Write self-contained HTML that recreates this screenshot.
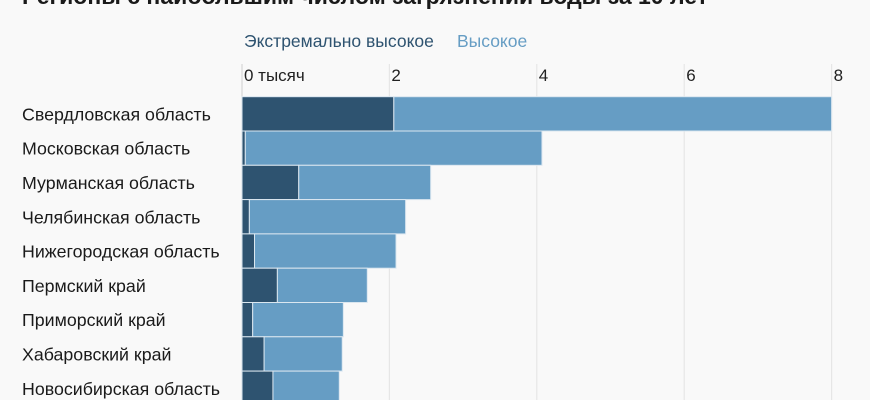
<!DOCTYPE html>
<html><head><meta charset="utf-8"><style>
html,body{margin:0;padding:0;background:#f9f9f9;}
svg{display:block;font-family:"Liberation Sans","Noto Sans CJK SC",sans-serif;}
</style></head><body>
<svg id="chart" width="870" height="400">
<text x="22" y="4" font-size="23" font-weight="bold" fill="#1a1a1a">Регионы с наибольшим числом загрязнений воды за 10 лет</text>
<g>
<text x="244" y="47" font-size="17.5" fill="#2e5370">Экстремально высокое</text>
<text x="457" y="47" font-size="17.5" fill="#669dc4">Высокое</text>
</g>
<g id="grid"></g><g id="bars"></g><g id="labels"></g>
</svg>
<script>
const categories=["Свердловская область","Московская область","Мурманская область","Челябинская область","Нижегородская область","Пермский край","Приморский край","Хабаровский край","Новосибирская область"];
const extreme=[2.06,0.045,0.77,0.10,0.17,0.48,0.145,0.30,0.42];
const high=[5.94,4.025,1.79,2.12,1.92,1.22,1.23,1.06,0.90];
const ticks=[0,2,4,6,8];
const tickLabels=["0 тысяч","2","4","6","8"];
const NS="http://www.w3.org/2000/svg";
const x0=242,x1=831.6,xmax=8;
const xs=v=>x0+v/xmax*(x1-x0);
const rowTop=96.7,rowH=34.3;
const ys=i=>rowTop+i*rowH;
function mk(t,a,p){const e=document.createElementNS(NS,t);for(const k in a)e.setAttribute(k,a[k]);p.appendChild(e);return e;}
const grid=document.getElementById('grid'),bars=document.getElementById('bars'),labels=document.getElementById('labels');
ticks.forEach((t,i)=>{
 const l=mk('line',{x1:xs(t),x2:xs(t),y1:64,y2:400,stroke:i==0?'#d6d6d6':'#e6e6e6','stroke-width':1.2},grid);
 
 
 const tx=mk('text',{x:xs(t)+2,y:81,'font-size':17,fill:'#222'},grid);
 tx.textContent=tickLabels[i];
 
 
});
categories.forEach((c,i)=>{
 const y=ys(i);
 const a=mk('rect',{x:xs(0),y:y,width:xs(extreme[i])-xs(0),height:rowH,fill:'#2e5370',stroke:'#dbe7f0','stroke-width':1},bars);
 
 
 const b=mk('rect',{x:xs(extreme[i]),y:y,width:xs(extreme[i]+high[i])-xs(extreme[i]),height:rowH,fill:'#669dc4',stroke:'#dbe7f0','stroke-width':1},bars);
 
 
 const t=mk('text',{x:22,y:y+rowH/2+6.5,'font-size':17.8,fill:'#1a1a1a'},labels);
 t.textContent=c;
 
 
});
</script>
</body></html>
